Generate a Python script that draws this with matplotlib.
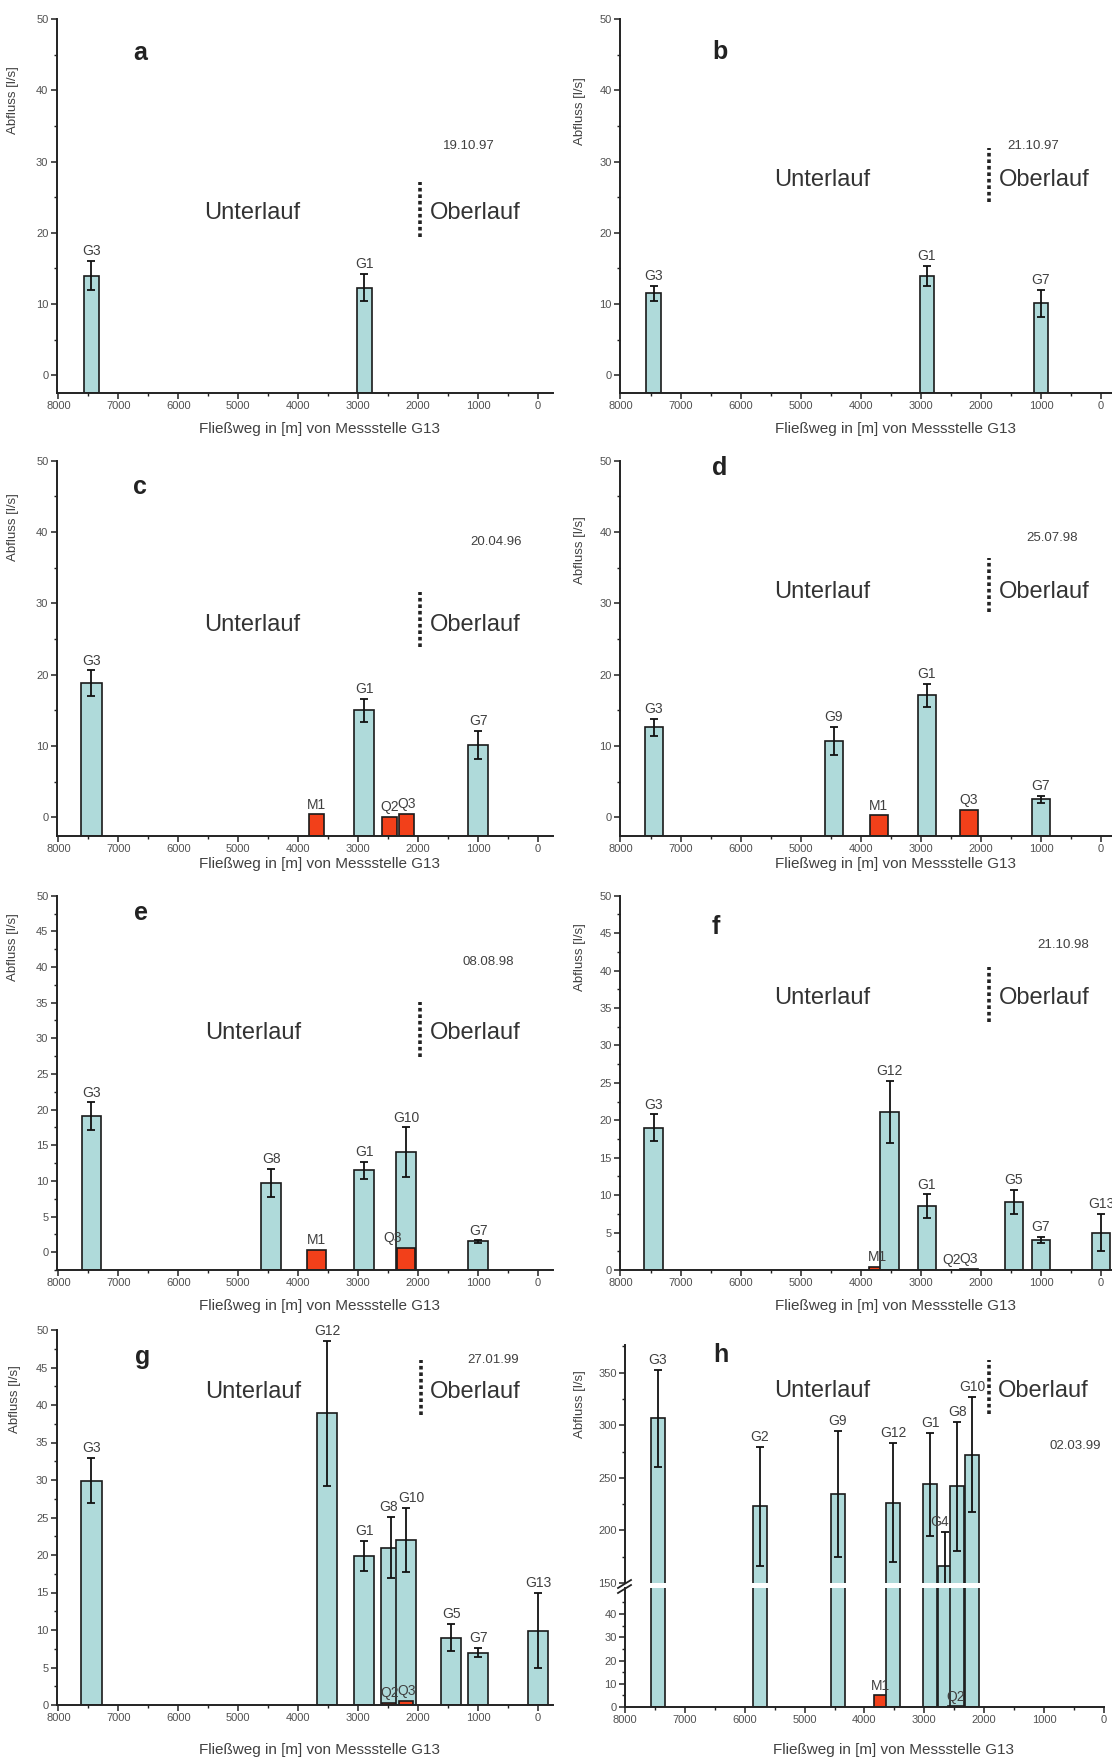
import matplotlib
matplotlib.use("Agg")
import matplotlib.pyplot as plt
from matplotlib.ticker import MultipleLocator, FixedLocator, FormatStrFormatter
from matplotlib.lines import Line2D

plt.rcParams['font.family'] = ['Liberation Sans', 'DejaVu Sans']

# --- data: station, distance from G13 [m], discharge [l/s], error [l/s]
a_names = ['G3', 'G1']
a_x = [7450, 2900]
a_q = [14.0, 12.3]
a_err = [2.1, 1.9]

b_names = ['G3', 'G1', 'G7']
b_x = [7450, 2900, 1000]
b_q = [11.5, 14.0, 10.1]
b_err = [1.1, 1.4, 1.9]

c_names = ['G3', 'M1', 'G1', 'Q2', 'Q3', 'G7']
c_x = [7450, 3700, 2900, 2480, 2200, 1000]
c_q = [18.8, 0.4, 15.0, 0.0, 0.5, 10.1]
c_err = [1.8, 0, 1.6, 0, 0, 2.0]

d_names = ['G3', 'G9', 'M1', 'G1', 'Q3', 'G7']
d_x = [7450, 4450, 3700, 2900, 2200, 1000]
d_q = [12.6, 10.7, 0.25, 17.1, 1.0, 2.5]
d_err = [1.2, 2.0, 0, 1.6, 0, 0.5]

e_names = ['G3', 'G8', 'M1', 'G1', 'G10', 'Q3', 'G7']
e_x = [7450, 4450, 3700, 2900, 2200, 2200, 1000]
e_q = [19.1, 9.7, 0.3, 11.5, 14.0, 0.55, 1.5]
e_err = [1.9, 2.0, 0, 1.2, 3.5, 0, 0.15]

f_names = ['G3', 'M1', 'G12', 'G1', 'Q2', 'Q3', 'G5', 'G7', 'G13']
f_x = [7450, 3720, 3520, 2900, 2480, 2200, 1450, 1000, 0]
f_q = [19.0, 0.4, 21.1, 8.5, 0.05, 0.2, 9.1, 4.0, 5.0]
f_err = [1.8, 0, 4.2, 1.6, 0, 0, 1.6, 0.4, 2.5]

g_names = ['G3', 'G12', 'G1', 'G8', 'Q2', 'G10', 'Q3', 'G5', 'G7', 'G13']
g_x = [7450, 3520, 2900, 2450, 2480, 2200, 2200, 1450, 1000, 0]
g_q = [29.9, 38.9, 19.9, 21.0, 0.3, 22.0, 0.6, 9.0, 7.0, 9.9]
g_err = [3.0, 9.7, 2.0, 4.1, 0, 4.3, 0, 1.8, 0.6, 5.0]

h_names = ['G3', 'G2', 'G9', 'M1', 'G12', 'G1', 'G4', 'G8', 'Q2', 'G10']
h_x = [7450, 5750, 4450, 3730, 3520, 2900, 2650, 2450, 2480, 2200]
h_q = [306.6, 223.0, 235.0, 5.0, 226.4, 243.7, 165.7, 241.8, 0.3, 272.0]
h_err = [46.0, 56.6, 60.0, 0, 56.6, 49.0, 33.0, 61.3, 0, 54.7]

dates = ['19.10.97', '21.10.97', '20.04.96', '25.07.98',
         '08.08.98', '21.10.98', '27.01.99', '02.03.99']

# --- style
W, H = 1112, 1762
TEAL = '#afdada'
RED = '#f2401a'
TXT = '#404040'
XLABEL = 'Fließweg in [m] von Messstelle G13'
YLABEL = 'Abfluss [l/s]'

fig = plt.figure(figsize=(W / 100, H / 100), dpi=100)


def add_ax(x0, y0, x1, y1):
    return fig.add_axes([x0 / W, 1 - y1 / H, (x1 - x0) / W, (y1 - y0) / H])


def style(ax, ymaj, ymin, xaxis=True):
    for s in ['top', 'right']:
        ax.spines[s].set_visible(False)
    for s in ['left', 'bottom']:
        ax.spines[s].set_linewidth(1.4)
        ax.spines[s].set_color('#222222')
    ax.yaxis.set_major_locator(MultipleLocator(ymaj))
    ax.yaxis.set_minor_locator(MultipleLocator(ymin))
    ax.xaxis.set_major_locator(MultipleLocator(1000))
    ax.xaxis.set_minor_locator(MultipleLocator(500))
    ax.xaxis.set_major_formatter(FormatStrFormatter('%d'))
    ax.tick_params(which='major', length=4, width=1.1, labelsize=8,
                   color='#222222', labelcolor='#505050', pad=2)
    ax.tick_params(which='minor', length=2.5, width=1, color='#222222')
    if not xaxis:
        ax.spines['bottom'].set_visible(False)
        ax.tick_params(axis='x', which='both', bottom=False, labelbottom=False)


def draw_bars(ax, names, xs, qs, errs, wg, wr, base, nudge={}, label_min=None, label_max=None):
    for n, x, q, e in zip(names, xs, qs, errs):
        red = n[0] in 'MQ'
        ax.bar(x, q - base, bottom=base, width=wr if red else wg,
               color=RED if red else TEAL, edgecolor='#1a1a1a', linewidth=1.2, zorder=2)
        if e > 0:
            ax.errorbar(x, q, yerr=e, fmt='none', ecolor='#111111', elinewidth=1.3,
                        capsize=3, capthick=1.3, zorder=3)
        top = q + e
        if label_min is not None and not (label_min <= top <= label_max):
            continue
        dx, dy = nudge.get(n, (0, 2))
        ax.annotate(n, (x, top), xytext=(dx, dy), textcoords='offset points',
                    ha='center', va='bottom', fontsize=10, color=TXT, zorder=4,
                    annotation_clip=False)


def annotate(ax, letter, date, pos):
    lt, dt, un, ob, dv = pos
    ax.text(*lt, letter, transform=ax.transAxes, fontsize=18, fontweight='bold',
            color='#222222', ha='center', va='center')
    ax.text(*dt, date, transform=ax.transAxes, fontsize=9.5, color=TXT,
            ha='center', va='center')
    ax.text(*un, 'Unterlauf', transform=ax.transAxes, fontsize=17, color='#333333',
            ha='center', va='center')
    ax.text(*ob, 'Oberlauf', transform=ax.transAxes, fontsize=17, color='#333333',
            ha='center', va='center')
    ax.plot([dv[0], dv[0]], [dv[1], dv[2]], transform=ax.transAxes, ls=(0, (1, 0.8)),
            lw=2.6, color='#222222', clip_on=False)


panels = [
    # name, data, box(x0,y0,x1,y1), xlim, ylim, ymaj, ymin, widths(G, red), xlabel pos, ylabel pos, texts
    ('a', (a_names, a_x, a_q, a_err), (56.7, 19.3, 553, 393), (8030, -250), (-2.5, 50), 10, 5,
     (250, 250), (0.53, -0.078), (-0.075, 0.784),
     ((0.168, 0.91), (0.83, 0.66), (0.394, 0.482), (0.843, 0.482), (0.732, 0.418, 0.565))),
    ('b', (b_names, b_x, b_q, b_err), (620, 19.3, 1112, 393), (8008, -183), (-2.5, 50), 10, 5,
     (240, 240), (0.56, -0.078), (-0.069, 0.755),
     ((0.203, 0.913), (0.839, 0.661), (0.41, 0.57), (0.862, 0.57), (0.75, 0.512, 0.655))),
    ('c', (c_names, c_x, c_q, c_err), (56.7, 460.7, 553, 835.7), (8030, -250), (-2.6, 50), 10, 5,
     (340, 250), (0.53, -0.056), (-0.075, 0.824),
     ((0.168, 0.93), (0.886, 0.784), (0.394, 0.562), (0.843, 0.562), (0.732, 0.504, 0.651))),
    ('d', (d_names, d_x, d_q, d_err), (620, 460.7, 1112, 835.7), (8008, -183), (-2.6, 50), 10, 5,
     (300, 300), (0.56, -0.056), (-0.069, 0.762),
     ((0.203, 0.98), (0.878, 0.794), (0.41, 0.651), (0.862, 0.651), (0.75, 0.597, 0.74))),
    ('e', (e_names, e_x, e_q, e_err), (56.7, 895.7, 553, 1270), (8030, -250), (-2.5, 50), 5, 2.5,
     (330, 310), (0.53, -0.078), (-0.075, 0.864),
     ((0.17, 0.954), (0.869, 0.824), (0.395, 0.633), (0.843, 0.633), (0.733, 0.57, 0.717))),
    ('f', (f_names, f_x, f_q, f_err), (620, 895.7, 1112, 1270), (8008, -183), (0, 50), 5, 2.5,
     (310, 300), (0.56, -0.078), (-0.069, 0.837),
     ((0.195, 0.917), (0.90, 0.868), (0.41, 0.726), (0.862, 0.726), (0.75, 0.663, 0.809))),
    ('g', (g_names, g_x, g_q, g_err), (56.7, 1330, 553, 1705), (8030, -250), (0, 50), 5, 2.5,
     (335, 240), (0.53, -0.101), (-0.071, 0.816),
     ((0.174, 0.929), (0.88, 0.92), (0.396, 0.835), (0.843, 0.835), (0.735, 0.773, 0.92))),
]

nudges = {'e': {'Q3': (-10, 2)},
          'g': {'G8': (-2, 2), 'G10': (4, 2)}}

for i, (letter, data, box, xlim, ylim, ymaj, ymin, widths, xl, yl, texts) in enumerate(panels):
    ax = add_ax(*box)
    style(ax, ymaj, ymin)
    ax.set_xlim(*xlim)
    ax.set_ylim(*ylim)
    draw_bars(ax, *data, widths[0], widths[1], ylim[0], nudges.get(letter, {}))
    ax.set_xlabel(XLABEL, fontsize=11, color=TXT)
    ax.xaxis.set_label_coords(*xl)
    ax.set_ylabel(YLABEL, fontsize=9.5, color=TXT)
    ax.yaxis.set_label_coords(*yl)
    annotate(ax, letter, dates[i], texts)

# --- panel h with broken y axis
hu = add_ax(625, 1345, 1104, 1583)
hl = add_ax(625, 1588, 1104, 1707)
style(hu, 50, 25, xaxis=False)
style(hl, 10, 5)
hl.yaxis.set_major_locator(FixedLocator([0, 10, 20, 30, 40]))
hl.yaxis.set_minor_locator(FixedLocator([5, 15, 25, 35, 45]))
for ax in (hu, hl):
    ax.set_xlim(8000, 0)
hu.set_ylim(150, 376.3)
hl.set_ylim(0, 51.2)
h_nudge = {'G4': (-4, 2)}
draw_bars(hu, h_names, h_x, h_q, h_err, 235, 235, 0, h_nudge, label_min=150, label_max=400)
draw_bars(hl, h_names, h_x, h_q, h_err, 235, 235, 0, h_nudge, label_min=0, label_max=51)
hl.set_xlabel(XLABEL, fontsize=11, color=TXT)
hl.xaxis.set_label_coords(0.56, -0.30)
hu.set_ylabel(YLABEL, fontsize=9.5, color=TXT)
hu.yaxis.set_label_coords(-0.081, 0.752)
annotate(hu, 'h', dates[7], ((0.2, 0.958), (0.94, 0.576), (0.411, 0.805),
                             (0.874, 0.805), (0.76, 0.708, 0.9375)))

# break marks on the left spine
for dy in (0, 5):
    fig.add_artist(Line2D([618 / W, 631 / W], [1 - (1588 + dy) / H, 1 - (1580 + dy) / H],
                          color='#222222', lw=1.3))

fig.savefig('out.png', dpi=100, facecolor='white')
